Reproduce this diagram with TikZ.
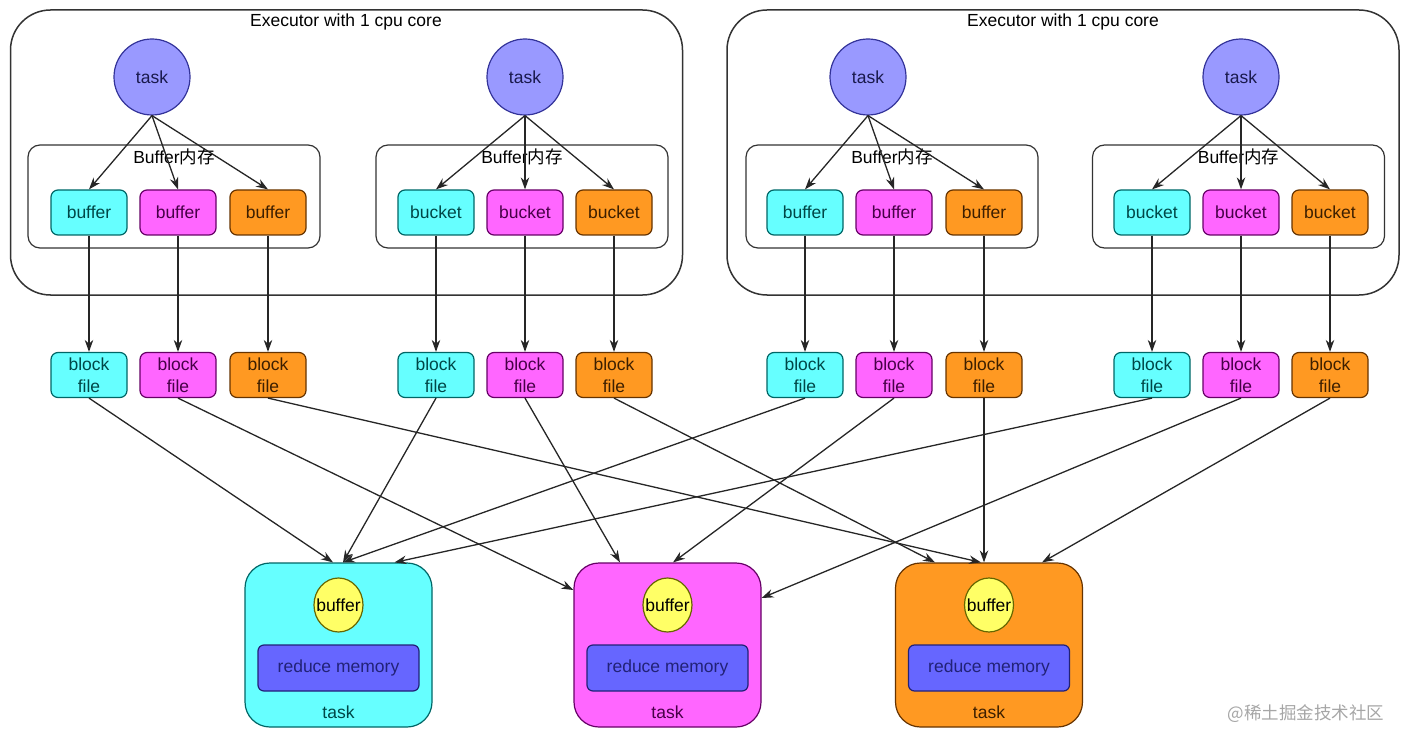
\documentclass[tikz,border=0pt]{standalone}
\usepackage{fontspec}
\setmainfont{Liberation Sans}
\newfontfamily\cjk{Noto Sans CJK SC}
\usepackage{xcolor}
\usepackage{tikz}
\usetikzlibrary{arrows.meta,shapes.geometric}

\definecolor{cyanfill}{HTML}{66FFFF}
\definecolor{cyanline}{HTML}{006666}
\definecolor{magfill}{HTML}{FF66FF}
\definecolor{magline}{HTML}{660066}
\definecolor{orafill}{HTML}{FF9922}
\definecolor{oraline}{HTML}{663300}
\definecolor{taskfill}{HTML}{9999FF}
\definecolor{taskline}{HTML}{333399}
\definecolor{yelfill}{HTML}{FFFF66}
\definecolor{yelline}{HTML}{666600}
\definecolor{memfill}{HTML}{6666FF}
\definecolor{memline}{HTML}{222277}

\begin{document}
\begin{tikzpicture}[
    x=1pt, y=-1pt,
    every node/.style={font=\fontsize{17.5}{22}\selectfont},
    executor/.style={rectangle, draw=black!80, line width=1.5pt, rounded corners=40pt, minimum width=672pt, minimum height=285pt},
    membox/.style={rectangle, draw=black!80, line width=1.2pt, rounded corners=12pt, minimum width=292pt, minimum height=103pt},
    tasknode/.style={circle, draw=taskline, fill=taskfill, line width=1.2pt, minimum size=76pt, inner sep=0pt, text=taskline!50!black},
    box/.style={rectangle, rounded corners=7pt, minimum width=76pt, minimum height=45pt, line width=1.2pt, align=center, inner sep=0pt},
    cbox/.style={box, draw=cyanline, fill=cyanfill, text=cyanline!70!black},
    mbox/.style={box, draw=magline, fill=magfill, text=magline!70!black},
    obox/.style={box, draw=oraline, fill=orafill, text=oraline!60!black},
    reducer/.style={rectangle, rounded corners=25pt, minimum width=187pt, minimum height=164pt, line width=1.2pt},
    bufcirc/.style={ellipse, draw=yelline, fill=yelfill, line width=1.2pt, minimum width=49pt, minimum height=54pt, inner sep=0pt, label={center:buffer}},
    membar/.style={rectangle, rounded corners=6pt, draw=memline, fill=memfill, text=memline, line width=1.2pt, minimum width=161pt, minimum height=46pt},
    arrow/.style={-{Stealth[length=12pt,width=8.5pt]}, line width=1.3pt, draw=black!85}
]
\useasboundingbox (0,0) rectangle (1408,746);

% Executors
\node[executor] (exec1) at (346.5,152.5) {};
\node[executor] (exec2) at (1063,152.5) {};
\node (title1) at (346,22) {Executor with 1 cpu core};
\node (title2) at (1063,22) {Executor with 1 cpu core};

% Buffer memory areas
\node[membox] (mem1) at (174,196.5) {};
\node[membox] (mem2) at (522,196.5) {};
\node[membox] (mem3) at (892,196.5) {};
\node[membox] (mem4) at (1238.5,196.5) {};
\node (memlab1) at (174,157) {Buffer{\cjk 内存}};
\node (memlab2) at (522,157) {Buffer{\cjk 内存}};
\node (memlab3) at (892,157) {Buffer{\cjk 内存}};
\node (memlab4) at (1238.5,157) {Buffer{\cjk 内存}};

% Map tasks
\node[tasknode] (t1) at (152,77) {task};
\node[tasknode] (t2) at (525,77) {task};
\node[tasknode] (t3) at (868,77) {task};
\node[tasknode] (t4) at (1241,77) {task};

% Buffers and buckets
\node[cbox] (s1c) at (89,212.5) {buffer};
\node[mbox] (s1m) at (178,212.5) {buffer};
\node[obox] (s1o) at (268,212.5) {buffer};
\node[cbox] (s2c) at (436,212.5) {bucket};
\node[mbox] (s2m) at (525,212.5) {bucket};
\node[obox] (s2o) at (614,212.5) {bucket};
\node[cbox] (s3c) at (805,212.5) {buffer};
\node[mbox] (s3m) at (894,212.5) {buffer};
\node[obox] (s3o) at (984,212.5) {buffer};
\node[cbox] (s4c) at (1152,212.5) {bucket};
\node[mbox] (s4m) at (1241,212.5) {bucket};
\node[obox] (s4o) at (1330,212.5) {bucket};

% Block files
\node[cbox] (f1c) at (89,375) {block\\file};
\node[mbox] (f1m) at (178,375) {block\\file};
\node[obox] (f1o) at (268,375) {block\\file};
\node[cbox] (f2c) at (436,375) {block\\file};
\node[mbox] (f2m) at (525,375) {block\\file};
\node[obox] (f2o) at (614,375) {block\\file};
\node[cbox] (f3c) at (805,375) {block\\file};
\node[mbox] (f3m) at (894,375) {block\\file};
\node[obox] (f3o) at (984,375) {block\\file};
\node[cbox] (f4c) at (1152,375) {block\\file};
\node[mbox] (f4m) at (1241,375) {block\\file};
\node[obox] (f4o) at (1330,375) {block\\file};

% Reduce tasks
\node[reducer, draw=cyanline, fill=cyanfill] (rc) at (338.5,645) {};
\node[reducer, draw=magline, fill=magfill] (rm) at (667.5,645) {};
\node[reducer, draw=oraline, fill=orafill] (ro) at (989,645) {};
\node[bufcirc] (rcbuf) at (338.5,605) {};
\node[bufcirc] (rmbuf) at (667.5,605) {};
\node[bufcirc] (robuf) at (989,605) {};
\node[membar] (rcmem) at (338.5,668) {reduce memory};
\node[membar] (rmmem) at (667.5,668) {reduce memory};
\node[membar] (romem) at (989,668) {reduce memory};
\node[text=cyanline!70!black] (rclab) at (338.5,712) {task};
\node[text=magline!70!black] (rmlab) at (667.5,712) {task};
\node[text=oraline!60!black] (rolab) at (989,712) {task};

% Watermark
\node[text=black!35] (mark) at (1306,714) {\cjk @稀土掘金技术社区};

% Arrows: tasks to buffers
\draw[arrow] (t1.south) -- (s1c.north);
\draw[arrow] (t1.south) -- (s1m.north);
\draw[arrow] (t1.south) -- (s1o.north);
\draw[arrow] (t2.south) -- (s2c.north);
\draw[arrow] (t2.south) -- (s2m.north);
\draw[arrow] (t2.south) -- (s2o.north);
\draw[arrow] (t3.south) -- (s3c.north);
\draw[arrow] (t3.south) -- (s3m.north);
\draw[arrow] (t3.south) -- (s3o.north);
\draw[arrow] (t4.south) -- (s4c.north);
\draw[arrow] (t4.south) -- (s4m.north);
\draw[arrow] (t4.south) -- (s4o.north);

% Arrows: buffers to block files
\draw[arrow] (s1c) -- (f1c);
\draw[arrow] (s1m) -- (f1m);
\draw[arrow] (s1o) -- (f1o);
\draw[arrow] (s2c) -- (f2c);
\draw[arrow] (s2m) -- (f2m);
\draw[arrow] (s2o) -- (f2o);
\draw[arrow] (s3c) -- (f3c);
\draw[arrow] (s3m) -- (f3m);
\draw[arrow] (s3o) -- (f3o);
\draw[arrow] (s4c) -- (f4c);
\draw[arrow] (s4m) -- (f4m);
\draw[arrow] (s4o) -- (f4o);

% Arrows: block files to reduce tasks
\draw[arrow] (f1c.south) -- ([xshift=-5.5pt]rc.north);
\draw[arrow] (f2c.south) -- ([xshift=4.5pt]rc.north);
\draw[arrow] (f3c.south) -- ([xshift=4.5pt]rc.north);
\draw[arrow] (f4c.south) -- ([xshift=56pt]rc.north);
\draw[arrow] (f1m.south) -- ([yshift=55pt]rm.west);
\draw[arrow] (f2m.south) -- ([xshift=-47.5pt]rm.north);
\draw[arrow] (f3m.south) -- ([xshift=5.5pt]rm.north);
\draw[arrow] (f4m.south) -- ([yshift=47pt]rm.east);
\draw[arrow] (f1o.south) -- ([xshift=-8pt]ro.north);
\draw[arrow] (f2o.south) -- ([xshift=-54pt]ro.north);
\draw[arrow] (f3o.south) -- ([xshift=-5pt]ro.north);
\draw[arrow] (f4o.south) -- ([xshift=53pt]ro.north);

\end{tikzpicture}
\end{document}
